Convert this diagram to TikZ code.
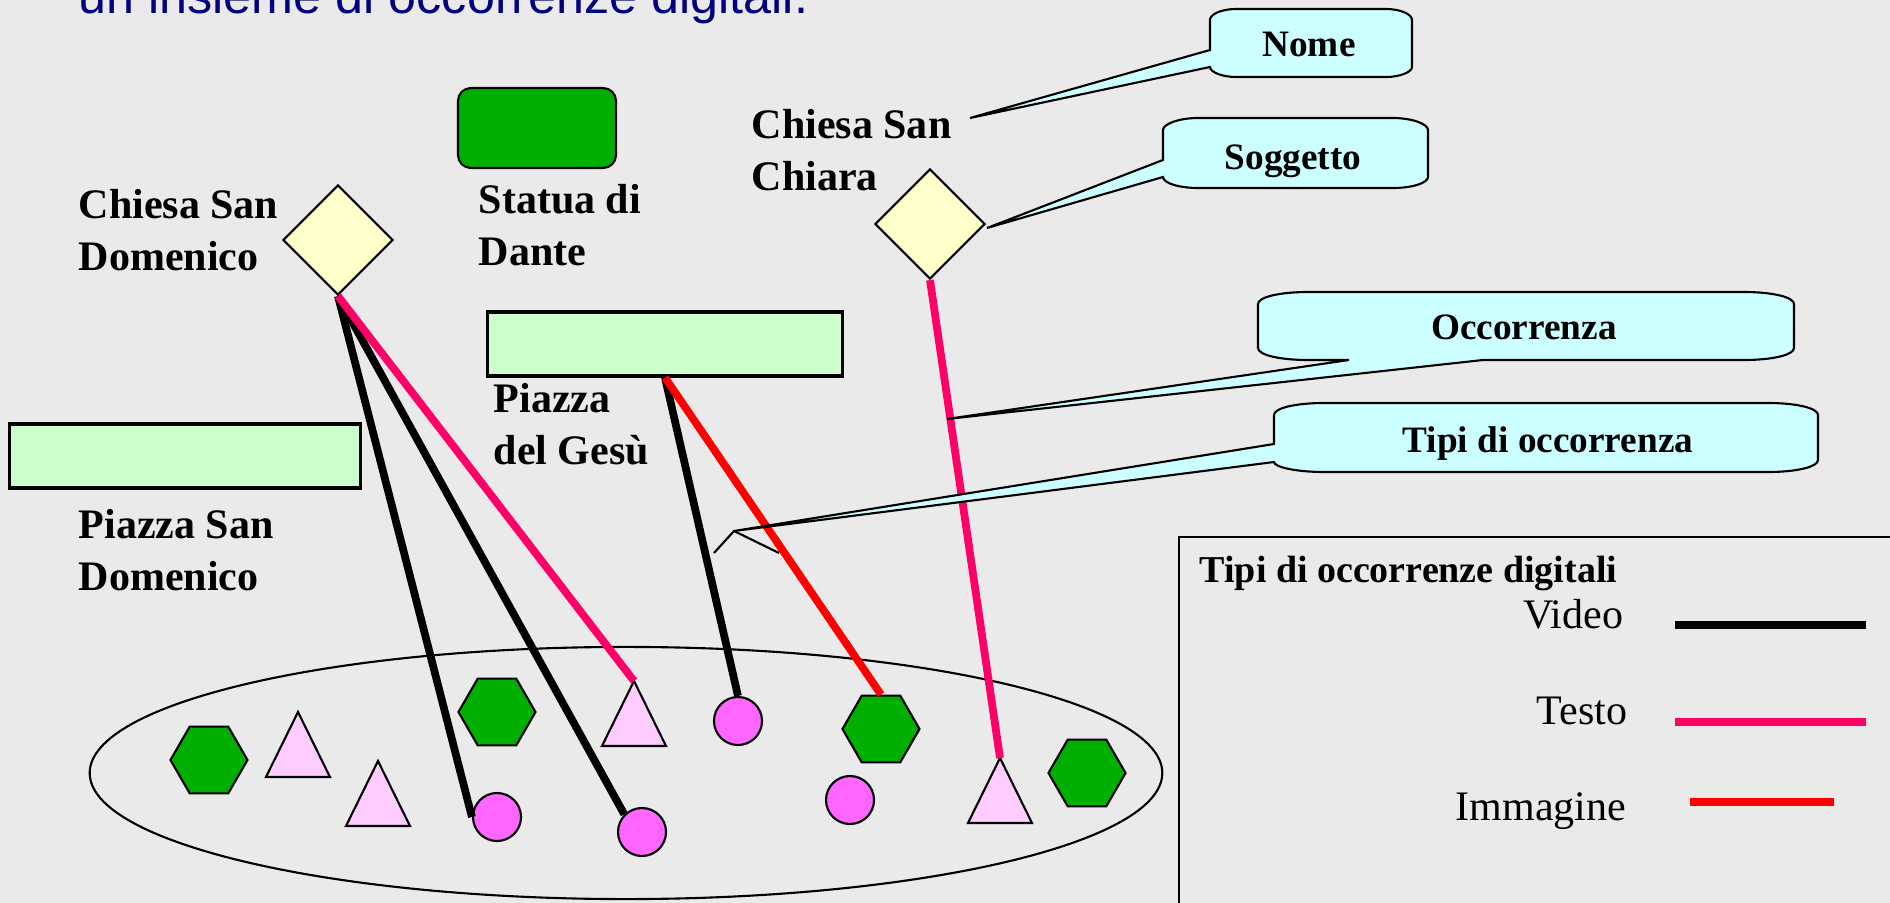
\documentclass[tikz,border=0pt]{standalone}
\usepackage{fontspec}
\setmainfont{Liberation Serif}
\newfontfamily\titolofont{Liberation Sans}
\usepackage{tikz}
\usetikzlibrary{shapes.geometric, positioning}

\definecolor{sfondo}{RGB}{234,234,234}
\definecolor{blutitolo}{RGB}{0,0,128}
\definecolor{avorio}{RGB}{255,255,204}
\definecolor{menta}{RGB}{204,255,204}
\definecolor{verde}{RGB}{0,176,0}
\definecolor{ciano}{RGB}{204,255,255}
\definecolor{orchidea}{RGB}{255,102,255}
\definecolor{cipria}{RGB}{255,204,255}
\definecolor{rosa}{RGB}{255,0,102}
\definecolor{rosso}{RGB}{255,0,0}

\newcommand{\duerighe}[2]{\begin{tabular}[t]{@{}l@{}}#1\\#2\end{tabular}}

\begin{document}
\begin{tikzpicture}[x=0.01cm, y=-0.01cm,
        % 1 unit = 1 px of the slide, y grows downwards
        etichetta/.style={font=\fontsize{11.95}{14.8}\selectfont\bfseries, inner sep=0pt, anchor=base west},
        nota/.style={font=\fontsize{10.6}{12.5}\selectfont\bfseries, inner sep=0pt, anchor=base},
        voce/.style={font=\fontsize{11.95}{14.8}\selectfont, inner sep=0pt, anchor=base east},
        rombo/.style={diamond, draw=black, fill=avorio, line width=0.6pt, minimum size=1.1cm, inner sep=0pt},
        piazza/.style={rectangle, draw=black, fill=menta, line width=0.9pt, minimum height=0.64cm, inner sep=0pt},
        statua/.style={rectangle, rounded corners=0.13cm, draw=black, fill=verde, line width=0.6pt, minimum width=1.58cm, minimum height=0.8cm, inner sep=0pt},
        esagono/.style={regular polygon, regular polygon sides=6, draw=black, fill=verde, line width=0.6pt, minimum size=0.77cm, inner sep=0pt},
        cerchio/.style={circle, draw=black, fill=orchidea, line width=0.6pt, minimum size=0.48cm, inner sep=0pt},
        triangolo/.style={draw=black, fill=cipria, line width=0.6pt},
        fumetto/.style={draw=black, fill=ciano, line width=0.6pt},
        video/.style={draw=black, line width=2.2pt},
        testo/.style={draw=rosa, line width=2.2pt},
        immagine/.style={draw=rosso, line width=2.2pt},]

        \fill[sfondo] (0,0) rectangle (1890,903);
        \useasboundingbox (0,0) rectangle (1890,903);

        \node[font=\titolofont\fontsize{14.3}{17}\selectfont, text=blutitolo, anchor=base west, inner sep=0pt] (titolo) at (78,14) {un insieme di occorrenze digitali.};

        % l'insieme delle occorrenze
        \node[ellipse, draw=black, line width=0.6pt, minimum width=10.72cm, minimum height=2.52cm, inner sep=0pt] (insieme) at (626,773) {};

        \foreach \n/\x/\y in {h_1/209/760, h_2/497/712, h_3/881/729, h_4/1087/773}
            \node[esagono] (\n) at (\x,\y) {};
        \foreach \n/\x/\y in {c_1/497/817, c_2/642/832, c_3/738/721, c_4/850/800}
            \node[cerchio] (\n) at (\x,\y) {};
        \foreach \n/\x/\y in {t_1/298/712, t_2/378/761, t_3/634/681, t_4/1000/758} {
            \coordinate (\n) at (\x,\y);
            \filldraw[triangolo] (\n) -- ++(-32,65) -- ++(64,0) -- cycle;
        }

        % soggetti
        \node[rombo] (d_dom) at (338,240) {};
        \node[rombo] (d_chiara) at (930,224) {};
        \node[statua] (r_dante) at (537,128) {};
        \node[piazza, minimum width=3.55cm] (r_gesu) at (665,344) {};
        \node[piazza, minimum width=3.5cm] (r_sandom) at (185,456) {};

        \node[etichetta] (l_dom) at (78,218) {\duerighe{Chiesa San}{Domenico}};
        \node[etichetta] (l_dante) at (478,213) {\duerighe{Statua di}{Dante}};
        \node[etichetta] (l_chiara) at (751,138) {\duerighe{Chiesa San}{Chiara}};
        \node[etichetta] (l_gesu) at (493,412) {\duerighe{Piazza}{del Gesù}};
        \node[etichetta] (l_sandom) at (78,538) {\duerighe{Piazza San}{Domenico}};

        % occorrenze
        \path (d_dom.south) edge[video] (c_1.west);
        \path (d_dom.south) edge[video] (c_2.north west);
        \path (d_dom.south) edge[testo] (t_3);
        \path (r_gesu.south) edge[video] (c_3.north);
        \path (r_gesu.south) edge[immagine] (h_3.north);
        \path (d_chiara.south) edge[testo] (t_4);

        % fumetti
        \coordinate (p_nome) at (970,118);
        \filldraw[fumetto] (1210,50) -- (p_nome) -- (1210,67)
            .. controls (1210,72) and (1222,77) .. (1236,77) -- (1386,77)
            .. controls (1400,77) and (1412,72) .. (1412,67) -- (1412,20)
            .. controls (1412,14) and (1400,9) .. (1386,9) -- (1236,9)
            .. controls (1222,9) and (1210,14) .. (1210,20) -- cycle;
        \node[nota] (n_nome) at (1309,56) {Nome};

        \coordinate (p_sogg) at (987,228);
        \filldraw[fumetto] (1163,160) -- (p_sogg) -- (1163,177)
            .. controls (1163,183) and (1179,188) .. (1198,188) -- (1393,188)
            .. controls (1412,188) and (1428,183) .. (1428,177) -- (1428,130)
            .. controls (1428,124) and (1412,118) .. (1393,118) -- (1198,118)
            .. controls (1179,118) and (1163,124) .. (1163,130) -- cycle;
        \node[nota] (n_sogg) at (1293,169) {Soggetto};

        \coordinate (p_occ) at (947,419);
        \filldraw[fumetto] (1483,360) -- (p_occ) -- (1349,360) -- (1308,360)
            .. controls (1280,360) and (1258,355) .. (1258,348) -- (1258,304)
            .. controls (1258,297) and (1280,292) .. (1308,292) -- (1744,292)
            .. controls (1772,292) and (1794,297) .. (1794,304) -- (1794,348)
            .. controls (1794,355) and (1772,360) .. (1744,360) -- cycle;
        \node[nota] (n_occ) at (1524,339) {Occorrenza};

        \coordinate (p_tipi) at (734,531);
        \coordinate (p_nero) at (714,553);
        \coordinate (p_rosso) at (779,553);
        \filldraw[fumetto] (1274,444) -- (p_tipi) -- (1274,462)
            .. controls (1274,467) and (1296,472) .. (1324,472) -- (1768,472)
            .. controls (1796,472) and (1818,467) .. (1818,460) -- (1818,415)
            .. controls (1818,408) and (1796,403) .. (1768,403) -- (1324,403)
            .. controls (1296,403) and (1274,408) .. (1274,415) -- cycle;
        \draw[line width=0.6pt] (p_nero) -- (p_tipi) -- (p_rosso);
        \node[nota] (n_tipi) at (1548,452) {Tipi di occorrenza};

        % legenda
        \node[draw=black, line width=0.6pt, anchor=north west, minimum width=7.3cm, minimum height=4cm, inner sep=0pt] (legenda) at (1178,536) {};
        \node[nota, font=\fontsize{10.8}{12.5}\selectfont\bfseries, anchor=base west] (n_legenda) at (1199,582) {Tipi di occorrenze digitali};
        \node[voce] (v_video) at (1624,628) {Video};
        \node[voce] (v_testo) at (1628,724) {Testo};
        \node[voce] (v_imm) at (1627,820) {Immagine};
        \draw[video] (1675,625) -- (1866,625);
        \draw[testo] (1675,722) -- (1866,722);
        \draw[immagine] (1690,802) -- (1834,802);

\end{tikzpicture}
\end{document}
